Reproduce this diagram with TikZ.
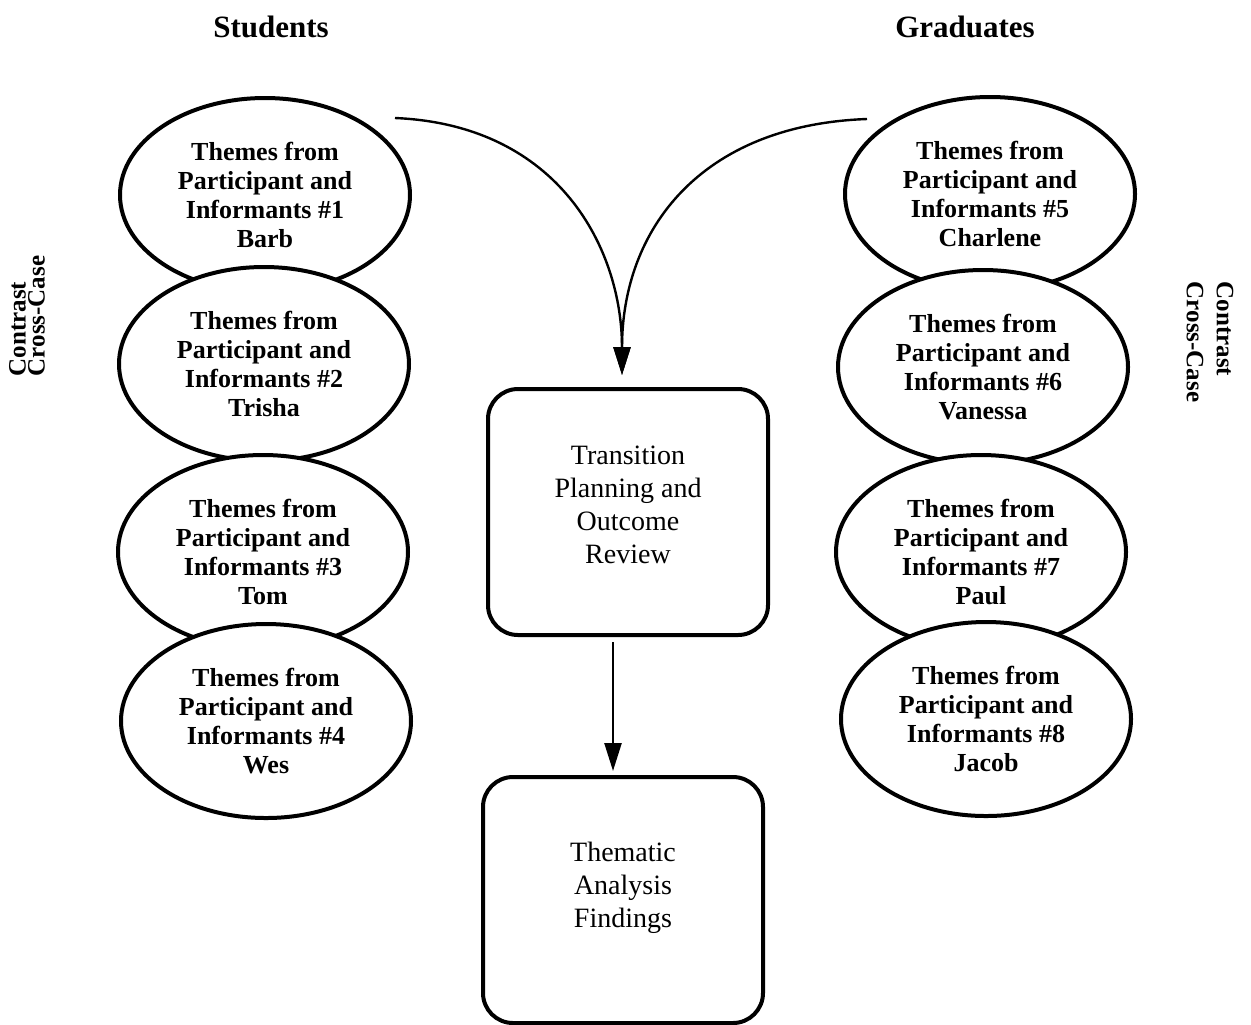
\documentclass[tikz,border=0pt]{standalone}
\usepackage{fontspec}
\setmainfont{Liberation Serif}
\usetikzlibrary{arrows.meta,shapes.geometric}

\begin{document}
\begin{tikzpicture}[x=0.5pt,y=-0.5pt,
  theme/.style={ellipse, draw, fill=white, line width=2pt, minimum width=145pt, minimum height=97pt, inner sep=0pt, align=center, font=\fontsize{13}{14.5}\selectfont\bfseries},
  stage/.style={rectangle, rounded corners=15pt, draw, line width=2pt, minimum width=140pt, minimum height=123pt, align=center, font=\fontsize{14}{16.5}\selectfont},
  header/.style={font=\fontsize{15.5}{18}\selectfont\bfseries},
  flow/.style={line width=1.2pt, -{Triangle[length=14pt,width=8.5pt]}}]
\useasboundingbox (0,0) rectangle (1251,1024);

% column headings
\node[header] (students) at (271,27) {Students};
\node[header] (graduates) at (965,27) {Graduates};

% students
\node[theme] (barb) at (265,195) {Themes from\\Participant and\\Informants \#1\\Barb};
\node[theme] (trisha) at (264,364) {Themes from\\Participant and\\Informants \#2\\Trisha};
\node[theme] (tom) at (263,552) {Themes from\\Participant and\\Informants \#3\\Tom};
\node[theme] (wes) at (266,721) {Themes from\\Participant and\\Informants \#4\\Wes};

% graduates
\node[theme] (charlene) at (990,194) {Themes from\\Participant and\\Informants \#5\\Charlene};
\node[theme] (vanessa) at (983,367) {Themes from\\Participant and\\Informants \#6\\Vanessa};
\node[theme] (paul) at (981,552) {Themes from\\Participant and\\Informants \#7\\Paul};
\node[theme] (jacob) at (986,719) {Themes from\\Participant and\\Informants \#8\\Jacob};

% side labels
\node[rotate=90, align=left, font=\fontsize{12.5}{9.5}\selectfont\bfseries] (leftcase) at (27,316) {Contrast\\Cross-Case};
\node[rotate=-90, align=left, font=\fontsize{12.5}{15}\selectfont\bfseries] (rightcase) at (1210,342) {Contrast\\Cross-Case};

% middle
\node[stage, text depth=7pt] (review) at (628,512) {Transition\\Planning and\\Outcome\\Review};
\node[stage, text depth=15pt] (findings) at (623,900) {Thematic\\Analysis\\Findings};

\coordinate (studentsout) at (395,118);
\coordinate (gradsout) at (867,119);

\draw[flow, shorten >=6pt] (studentsout) .. controls (560,125) and (622,250) .. ([xshift=-3pt]review.north);
\draw[flow, shorten >=6pt] (gradsout) .. controls (700,125) and (622,230) .. ([xshift=-3pt]review.north);
\draw[flow, shorten <=2.5pt, shorten >=2pt] ([xshift=-7.5pt]review.south) -- ([xshift=-7.5pt]review.south |- findings.north);
\end{tikzpicture}
\end{document}
